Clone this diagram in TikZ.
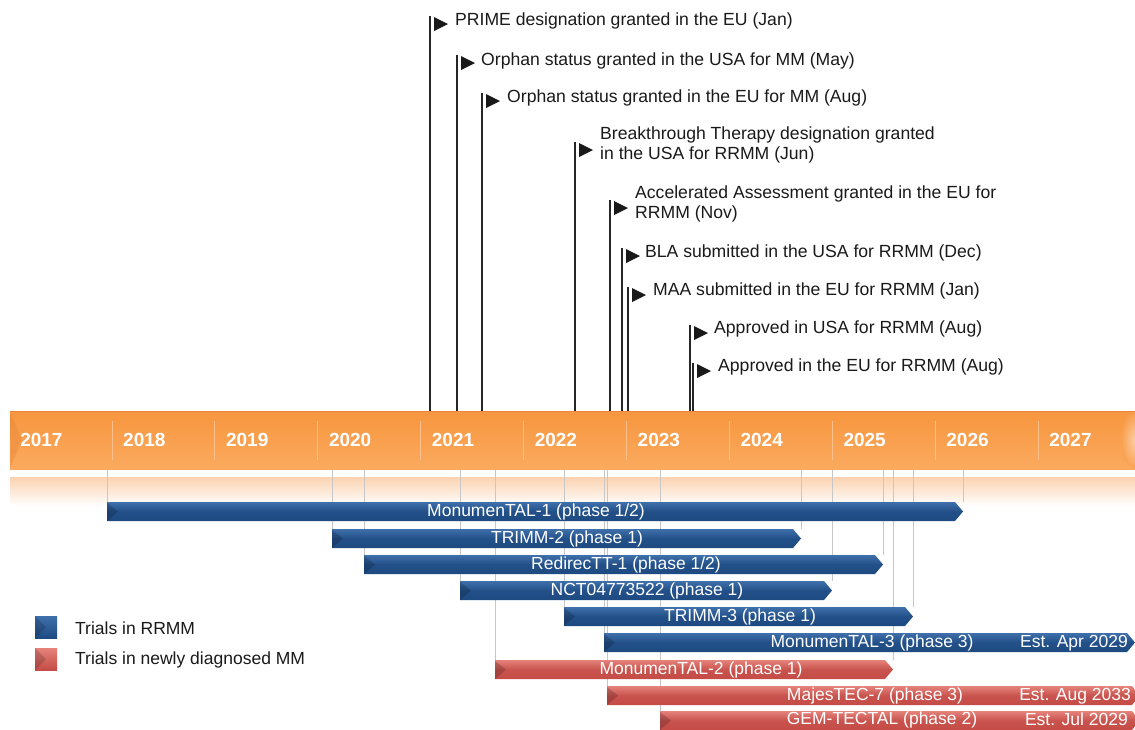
\documentclass[tikz,border=0pt]{standalone}
\usepackage{fontspec}
\setmainfont{Liberation Sans}
\usetikzlibrary{calc}
\definecolor{orbar}{HTML}{F9A04F}
\definecolor{ortop}{HTML}{F7963F}
\definecolor{orbot}{HTML}{FBAA5E}
\definecolor{orline}{HTML}{E8873A}
\definecolor{orsep}{HTML}{FCC08A}
\definecolor{bluetop}{HTML}{3F70AB}
\definecolor{bluebot}{HTML}{1E4A82}
\definecolor{redtop}{HTML}{E5837B}
\definecolor{redbot}{HTML}{C44B46}
\definecolor{refl}{HTML}{FBD2B0}
\definecolor{txt}{HTML}{1A1A1A}
\tikzset{
  mtext/.style={anchor=west, inner sep=0pt, font=\fontsize{17.6}{20.5}\selectfont, text=txt, align=left},
  pole/.style={line width=1.4pt, draw=black!85},
  flagtri/.style={fill=black!90},
  yearlab/.style={anchor=west, inner sep=0pt, text=white, font=\bfseries\fontsize{19}{22}\selectfont},
  barlab/.style={inner sep=0pt, text=white, font=\fontsize{17.5}{20}\selectfont},
  estlab/.style={anchor=east, inner sep=0pt, text=white, font=\fontsize{17.5}{20}\selectfont},
  guide/.style={draw=black!22, line width=0.8pt},
  sepline/.style={draw=orsep, line width=0.9pt},
  bluebar/.style={top color=bluetop, bottom color=bluebot, middle color=bluebot!85!bluetop},
  redbar/.style={top color=redtop, bottom color=redbot, middle color=redbot!85!redtop},
  legtext/.style={anchor=west, inner sep=0pt, font=\fontsize{17.5}{20}\selectfont, text=txt},
}
% bar macro: #1 style, #2 x start, #3 x tip, #4 y top
\newcommand{\trialbar}[4]{%
  \path[#1] (#2,#4) -- ({#3-8},#4) -- (#3,{#4+9.5}) -- ({#3-8},{#4+19}) -- (#2,{#4+19}) -- cycle;
  \fill[black,opacity=0.18] (#2,{#4+1}) -- ({#2+11},{#4+9.5}) -- (#2,{#4+19}) -- cycle;
}
\begin{document}
\begin{tikzpicture}[x=1pt,y=-1pt]
\useasboundingbox (0,0) rectangle (1135,729);
\fill[white] (0,0) rectangle (1135,729);

% reflection band under timeline
\shade[top color=refl, bottom color=white] (10,477) rectangle (1135,506);

% guide lines
\foreach \gx/\gy in {107/502, 332/529, 364/555, 460/581, 495/660, 564/607, 604/633, 607/686, 660/712, 801/529, 832/581, 883/555, 893/660, 913/607, 963/502}{
  \coordinate (gt\gx) at (\gx,470);
  \coordinate (gb\gx) at (\gx,\gy);
  \draw[guide] (gt\gx) -- (gb\gx);
}

% timeline bar
\shade[top color=ortop, bottom color=orbot] (10,411) rectangle (1135,469);
\draw[orline, line width=1pt] (10,411.5) -- (1135,411.5);
\fill[orline, opacity=0.45] (10,412) -- (22,440) -- (10,468) -- cycle;
\shade[inner color=white!70!orbar, outer color=orbar, opacity=0.7] (1135,440) ellipse (14 and 28);
\foreach \k in {1,...,10}{
  \draw[sepline] ({9.1+102.9*\k},421) -- ({9.1+102.9*\k},460);
}
\foreach \yr [count=\k from 0] in {2017,2018,2019,2020,2021,2022,2023,2024,2025,2026,2027}{
  \node[yearlab] (y\yr) at ({20.1+102.9*\k},440) {\yr};
}

% milestones: id / pole x / top / text x / text y / text
\newcommand{\milestone}[6]{%
  \coordinate (p#1) at (#2,#3);
  \coordinate (b#1) at (#2,411);
  \draw[pole] (p#1) -- (b#1);
  \fill[flagtri] ($(p#1)+(4,1)$) -- ++(14,7) -- ++(-14,7) -- cycle;
  \node[mtext] (m#1) at (#4,#5) {#6};
}
\milestone{1}{430}{16}{455}{21}{PRIME designation granted in the EU (Jan)}
\milestone{2}{457}{55}{481}{61}{Orphan status granted in the USA for MM (May)}
\milestone{3}{482}{93}{507}{98}{Orphan status granted in the EU for MM (Aug)}
\milestone{4}{575}{142}{600}{145}{Breakthrough Therapy designation granted\\in the USA for RRMM (Jun)}
\milestone{5}{610}{200}{635}{204}{Accelerated Assessment granted in the EU for\\RRMM (Nov)}
\milestone{6}{622}{248}{645}{253}{BLA submitted in the USA for RRMM (Dec)}
\milestone{7}{628}{287}{653}{291}{MAA submitted in the EU for RRMM (Jan)}
\milestone{8}{690}{325}{714}{329}{Approved in USA for RRMM (Aug)}
\milestone{9}{693}{363}{718}{367}{Approved in the EU for RRMM (Aug)}

% trial bars
\trialbar{bluebar}{107}{963}{502}
\node[barlab] (t1) at (536,512) {MonumenTAL-1 (phase 1/2)};
\trialbar{bluebar}{332}{801}{529}
\node[barlab] (t2) at (567,539) {TRIMM-2 (phase 1)};
\trialbar{bluebar}{364}{883}{555}
\node[barlab] (t3) at (626,565) {RedirecTT-1 (phase 1/2)};
\trialbar{bluebar}{460}{832}{581}
\node[barlab] (t4) at (647,591) {NCT04773522 (phase 1)};
\trialbar{bluebar}{564}{913}{607}
\node[barlab] (t5) at (740,617) {TRIMM-3 (phase 1)};
\trialbar{bluebar}{604}{1135}{633}
\node[barlab] (t6) at (872,643) {MonumenTAL-3 (phase 3)};
\node[estlab] (e6) at (1128,643) {Est. Apr 2029};
\trialbar{redbar}{495}{893}{660}
\node[barlab] (t7) at (701,670) {MonumenTAL-2 (phase 1)};
\trialbar{redbar}{607}{1140}{686}
\node[barlab] (t8) at (875,696) {MajesTEC-7 (phase 3)};
\node[estlab] (e8) at (1131,696) {Est. Aug 2033};
\trialbar{redbar}{660}{1140}{711}
\node[barlab] (t9) at (882,719.5) {GEM-TECTAL (phase 2)};
\node[estlab] (e9) at (1128,719.5) {Est. Jul 2029};

% legend
\shade[top color=bluetop, bottom color=bluebot] (35,616) rectangle (57,638);
\fill[black,opacity=0.15] (35,616) -- (46,627) -- (35,638) -- cycle;
\node[legtext] (l1) at (75,628) {Trials in RRMM};
\shade[top color=redtop, bottom color=redbot] (35,648) rectangle (57,670);
\fill[black,opacity=0.15] (35,648) -- (46,659) -- (35,670) -- cycle;
\node[legtext] (l2) at (75,660) {Trials in newly diagnosed MM};
\end{tikzpicture}
\end{document}
